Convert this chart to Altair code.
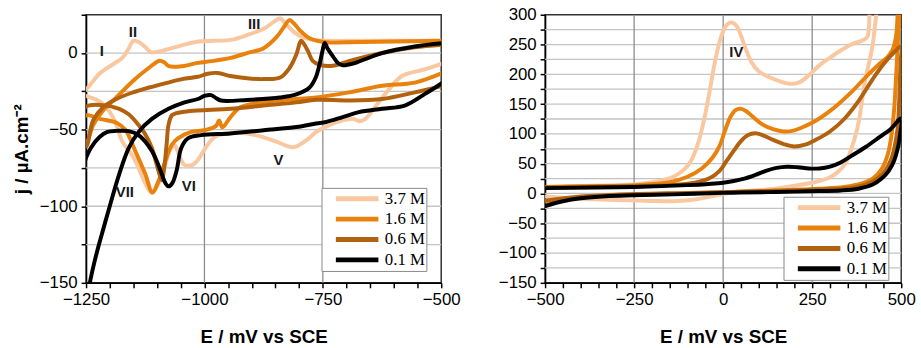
import altair as alt
import pandas as pd

CONC = ["3.7 M", "1.6 M", "0.6 M", "0.1 M"]
COLORS = ["#F9C8A0", "#E8820C", "#B2610F", "#000000"]

# ---------------- Left panel (cathodic region) ----------------
L37_E = [-500, -535, -583, -611, -639, -660, -672, -685, -708, -743, -764, -785, -813, -847, -875, -910, -944, -979,
         -1000, -1012, -1025, -1042, -1053, -1063, -1072, -1085, -1100, -1112, -1125, -1150, -1173, -1193, -1215,
         -1228, -1250, -1268,
         -1250, -1222, -1194, -1173, -1160, -1150, -1138, -1125, -1113, -1100, -1083, -1048, -1013, -979, -944,
         -909, -874, -853, -840, -828, -810, -790, -770, -735, -666, -500]
L37_J = [-7, -10.7, -15, -24, -35, -43, -44.5, -43, -44, -48, -51.5, -57, -61.5, -58, -55, -52.5, -52, -55,
         -63, -69, -73, -73, -67, -60, -63, -75, -87, -91, -85, -68, -58, -42, -33,
         -30.5, -28, -26,
         -23.6, -13.5, -7.5, -3, 3, 8, 7, 4, 0.5, 0.8, 2, 5, 7.5, 8, 8.6,
         11.8, 16, 20.5, 22.5, 19, 13.5, 10, 8.6, 8, 8, 8]

L16_E = [-497, -556, -625, -695, -764, -806, -875, -924, -945, -962, -969, -974, -979, -1000, -1028, -1056, -1069,
         -1083, -1097, -1110, -1125, -1146, -1167, -1186, -1221, -1250, -1262,
         -1250, -1235, -1214, -1186, -1151, -1117, -1095, -1085, -1075, -1047, -1014, -985, -945, -910, -875,
         -847, -830, -821, -810, -799, -778, -743, -700, -600, -500]
L16_J = [-12.9, -19.3, -21.4, -25.7, -29, -30, -32, -35.4, -41.8, -48.5, -44, -47, -48.3, -50.4, -51.5, -55.7, -60,
         -70.8, -83.6, -91, -79, -64, -50, -45.5, -43, -40.7, -50,
         -59, -47, -37.5, -29, -18.2, -9.6, -5, -6, -8.6, -8.6, -6.4, -5.3, -3.2, 0, 3.2,
         10.7, 18, 21.5, 19, 15, 9.6, 7, 7, 7.5, 8]

L06_E = [-497, -556, -625, -695, -764, -806, -875, -945, -1014, -1042, -1062, -1069, -1076, -1080, -1085, -1090,
         -1097, -1111, -1125, -1139, -1160, -1180, -1215, -1250, -1265,
         -1250, -1235, -1214, -1186, -1151, -1117, -1080, -1047, -1014, -993, -972, -945, -910, -875, -840,
         -820, -806, -796, -790, -781, -771, -755, -729, -695, -625, -556, -497]
L06_J = [-21.4, -25.7, -30, -31, -30.5, -32.2, -34.3, -36.4, -37.5, -38.3, -39.5, -40.7, -47, -60, -75, -83,
         -77, -62, -53, -47, -40, -36.4, -34, -35, -45,
         -61, -44, -35.4, -30, -25.7, -22.5, -19.5, -17, -15.5, -13.5, -13, -15, -16.5, -17, -16,
         -9.6, -1, 8, 6, 1, -5.3, -7.8, -8.3, -5.3, 0, 3.7, 5.4]

L01_E = [-497, -535, -577, -625, -674, -708, -743, -764, -806, -875, -945, -1007, -1035, -1049, -1059, -1068,
         -1076, -1084, -1090, -1111, -1139, -1160, -1186, -1205, -1221, -1240, -1252, -1262, -1268, -1262, -1250,
         -1242, -1232, -1221, -1200, -1180, -1160, -1139, -1111, -1076, -1042, -1014, -1000, -986, -975, -965,
         -910, -840, -806, -778, -765, -757, -751, -746, -740, -729, -718, -708, -695, -681, -625, -556, -497]
L01_J = [-19.3, -26.8, -34.3, -36.4, -38.6, -41.8, -45, -46, -48.3, -50.4, -52.5, -53.6, -55.7, -62, -77, -85,
         -87, -84, -79, -64, -53.6, -51, -50.8, -51.5, -54.7, -62, -70, -80, -110, -170, -165,
         -150, -136, -123, -100, -79, -62, -51.5, -43, -36.4, -32.2, -30, -28, -27.5, -29.5, -31,
         -30.6, -29, -27, -22.5, -16, -7.5, 1, 6.5, 3, -2, -6.5, -8, -7.5, -6.4, 0, 4.3, 6.4]

# ---------------- Right panel (anodic region) ----------------
R37_E = [-500, -400, -300, -250, -185, -140, -110, -90, -70, -55, -40, -25, -12, 0, 12, 25, 38, 50, 65, 80, 100,
         130, 160, 190, 215, 240, 270, 300, 330, 360, 395, 405, 410, 413, 422,
         430, 426, 420, 410, 400, 392, 385, 375, 360, 343, 320, 296, 250, 200, 130, 40, 0, -50, -90, -140,
         -200, -300, -400, -450, -500]
R37_J = [10.5, 12.5, 14, 15, 20, 28, 40, 55, 85, 120, 165, 215, 250, 272, 284, 287, 281, 265, 240, 220, 205,
         195, 188, 184, 187, 198, 215, 228, 240, 250, 258, 263, 285, 320, 330,
         310, 280, 250, 220, 195, 165, 135, 105, 75, 50, 35, 26, 18, 13, 7, 3, -1, -7, -11, -13,
         -12.5, -11, -9, -7, -5]

R16_E = [-500, -400, -250, -150, -100, -60, -30, -10, 5, 20, 35, 50, 65, 85, 110, 140, 170, 200, 230, 260, 290,
         320, 360, 400, 440, 460, 475, 485, 490, 492, 494,
         496, 492, 486, 480, 472, 462, 446, 420, 390, 340, 270, 150, 50, 0, -150, -300, -400, -500]
R16_J = [11, 12, 14, 19, 28, 42, 60, 80, 105, 128, 140, 142, 138, 128, 116, 108, 104, 106, 113, 122, 134,
         148, 170, 195, 218, 228, 240, 262, 300, 320, 325,
         310, 270, 200, 140, 95, 65, 42, 25, 17, 11, 8, 5, 3, 2, -1, -3, -6, -13]

R06_E = [-500, -250, -150, -80, -40, -10, 10, 30, 50, 70, 90, 110, 140, 170, 200, 230, 260, 300, 340, 380, 420,
         450, 480, 500,
         499, 497, 494, 490, 482, 472, 455, 435, 400, 350, 270, 150, 50, -100, -300, -400, -500]
R06_J = [10, 12, 14, 18, 25, 38, 55, 72, 88, 98, 101, 98, 90, 83, 79, 82, 90, 104, 125, 155, 192,
         217, 237, 247,
         225, 200, 150, 110, 80, 58, 38, 26, 15, 9, 6.5, 4.5, 3, 1, -2, -5, -12]

R01_E = [-500, -250, -100, -40, 0, 30, 60, 90, 120, 150, 180, 210, 240, 270, 300, 330, 360, 400, 440, 470, 500,
         497, 490, 480, 465, 445, 420, 380, 330, 270, 150, 50, 0, -140, -250, -330, -400, -450, -500]
R01_J = [9, 11, 14, 16, 18, 21, 25, 31, 38, 43, 45, 44, 42, 42, 45, 52, 63, 78, 95, 108, 126,
         100, 75, 55, 38, 25, 15, 8, 5, 4, 2.5, 1.5, 1, -1.5, -3, -4.5, -8, -13, -21]

# ---------------- Peak labels ----------------
LBL_LEFT_TEXT = ["I", "II", "III", "V", "VI", "VII"]
LBL_LEFT_E = [-1217, -1151, -895, -844, -1033, -1168]
LBL_LEFT_J = [1.5, 14, 18.7, -70, -86.5, -90.7]
LBL_RIGHT_TEXT = ["IV"]
LBL_RIGHT_E = [37]
LBL_RIGHT_J = [237]

# ---------------- Axis ticks / labels / gridlines ----------------
LEFT_X_TICKS = list(range(-1250, -499, 50))
LEFT_X_LABELS = [-1250, -1000, -750, -500]
LEFT_X_GRID = [-1000, -750]
LEFT_Y_TICKS = list(range(-150, 26, 25))
LEFT_Y_LABELS = [-150, -100, -50, 0]
LEFT_Y_GRID = [-125, -100, -75, -50, -25, 0]

RIGHT_X_TICKS = list(range(-500, 501, 50))
RIGHT_X_LABELS = [-500, -250, 0, 250, 500]
RIGHT_X_GRID = [-250, 0, 250]
RIGHT_Y_TICKS = list(range(-150, 301, 25))
RIGHT_Y_LABELS = [-150, -100, -50, 0, 50, 100, 150, 200, 250, 300]
RIGHT_Y_GRID = list(range(-125, 300, 25))


def frame(conc, E, J):
    return pd.DataFrame({"conc": conc, "E": E, "j": J, "i": list(range(len(E)))})


color_scale = alt.Scale(domain=CONC, range=COLORS)


def label_expr(labels):
    vals = ",".join(str(v) for v in labels)
    return (f"indexof([{vals}], datum.value) >= 0 ? "
            f"(datum.value < 0 ? '\u2212' + abs(datum.value) : '' + datum.value) : ''")


def panel(series, xdom, ydom, xticks, xlabels, xgrid, yticks, ylabels, ygrid, ytitle, lbl, legend_xy, w, h):
    x_axis = alt.Axis(
        title="E / mV vs SCE", values=xticks, labelExpr=label_expr(xlabels), grid=False,
        labelFlush=False, labelOverlap=False, labelBound=False,
    )
    y_axis = alt.Axis(
        title=ytitle if ytitle else "", values=yticks, labelExpr=label_expr(ylabels), grid=False,
        labelFlush=False, labelOverlap=False, labelBound=False,
    )
    xs = alt.Scale(domain=xdom, nice=False, zero=False)
    ys = alt.Scale(domain=ydom, nice=False, zero=False)
    X = alt.X("E:Q", scale=xs, axis=x_axis)
    Y = alt.Y("j:Q", scale=ys, axis=y_axis)

    legend = alt.Legend(
        title=None, orient="none", legendX=legend_xy[0], legendY=legend_xy[1],
        symbolType="stroke", symbolSize=1849, symbolStrokeWidth=5, clipHeight=20,
        labelFont="Liberation Serif", labelFontSize=17, labelColor="black",
        labelExpr="datum.label + '\u00a0\u00a0\u00a0'",
        strokeColor="#8A8A8A", fillColor="white", padding=1, rowPadding=0.6,
        symbolOffset=11, labelOffset=4,
    )

    hgrid = alt.Chart(pd.DataFrame({"j": ygrid})).mark_rule(color="#C4C4C4", strokeWidth=1.3).encode(y=Y)
    vgrid = alt.Chart(pd.DataFrame({"E": xgrid})).mark_rule(color="#8C8C8C", strokeWidth=1.3).encode(x=X)
    layers = [hgrid, vgrid]
    for conc, E, J in series:
        layers.append(
            alt.Chart(frame(conc, E, J)).mark_line(
                interpolate="catmull-rom", strokeWidth=4, clip=True, strokeCap="round", strokeJoin="round"
            ).encode(
                x=X, y=Y,
                color=alt.Color("conc:N", scale=color_scale, legend=legend),
                order=alt.Order("i:Q"),
            )
        )
    txt, te, tj = lbl
    labels = alt.Chart(pd.DataFrame({"t": txt, "E": te, "j": tj})).mark_text(
        font="Liberation Sans", fontWeight="bold", fontSize=15, color="#1a1a1a"
    ).encode(x=X, y=Y, text="t:N")
    layers.append(labels)
    return alt.layer(*layers).properties(width=w, height=h)


left = panel(
    [("3.7 M", L37_E, L37_J), ("1.6 M", L16_E, L16_J), ("0.6 M", L06_E, L06_J), ("0.1 M", L01_E, L01_J)],
    [-1250, -500], [-150, 25], LEFT_X_TICKS, LEFT_X_LABELS, LEFT_X_GRID,
    LEFT_Y_TICKS, LEFT_Y_LABELS, LEFT_Y_GRID, "j / µA.cm⁻²",
    (LBL_LEFT_TEXT, LBL_LEFT_E, LBL_LEFT_J), (238, 175), 359, 271,
)
right = panel(
    [("3.7 M", R37_E, R37_J), ("1.6 M", R16_E, R16_J), ("0.6 M", R06_E, R06_J), ("0.1 M", R01_E, R01_J)],
    [-500, 500], [-150, 300], RIGHT_X_TICKS, RIGHT_X_LABELS, RIGHT_X_GRID,
    RIGHT_Y_TICKS, RIGHT_Y_LABELS, RIGHT_Y_GRID, None,
    (LBL_RIGHT_TEXT, LBL_RIGHT_E, LBL_RIGHT_J), (241, 184), 360, 271,
)

chart = alt.hconcat(left, right, spacing=36).resolve_legend(color="independent").properties(
    padding={"left": 11, "top": 3, "right": 5, "bottom": 2},
    background="white",
).configure_axis(
    labelFont="Liberation Sans", labelFontSize=17, labelColor="black", labelPadding=4,
    titleFont="Liberation Sans", titleFontSize=19, titleFontWeight="bold", titleColor="black",
    domainColor="black", domainWidth=1.5, tickColor="black", tickWidth=1.5, tickSize=5,
).configure_axisX(titlePadding=20).configure_axisY(titlePadding=8).configure_view(
    stroke="#333333", strokeWidth=1.5
)

chart.save("out.html", embed_options={"renderer": "svg", "actions": False})
